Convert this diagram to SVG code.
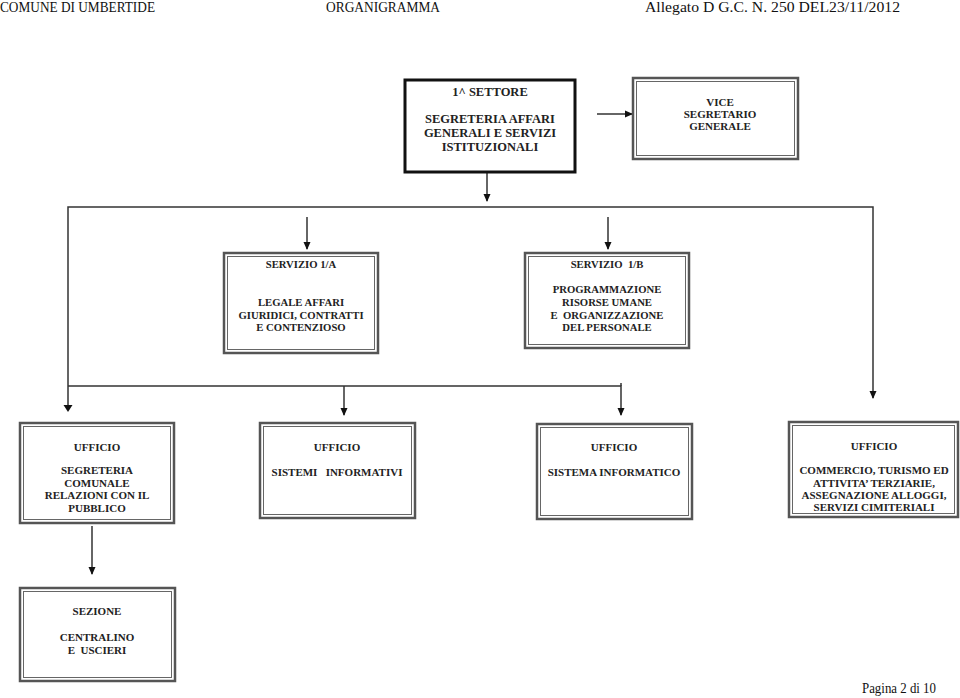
<svg xmlns="http://www.w3.org/2000/svg" width="960" height="698" viewBox="0 0 960 698">
<defs>
<marker id="ah" markerWidth="8" markerHeight="8" refX="7" refY="4" orient="auto" markerUnits="userSpaceOnUse">
<path d="M0,0.5 L8,4 L0,7.5 z" fill="#111"/>
</marker>
<style>
.hd{font-family:"Liberation Serif",serif;font-size:14px;fill:#111}
.t{font-family:"Liberation Serif",serif;font-weight:bold;font-size:11px;fill:#222;text-anchor:middle}
.s{font-size:10.7px}
.tl{font-family:"Liberation Serif",serif;font-weight:bold;font-size:12.5px;fill:#222;text-anchor:middle}
.o{fill:#fff;stroke:#555;stroke-width:2.5}
.i{fill:none;stroke:#666;stroke-width:1}
.c{fill:none;stroke:#333;stroke-width:1.5}
</style>
</defs>
<rect width="960" height="698" fill="#fff"/>
<text class="hd" x="0" y="12" textLength="155" lengthAdjust="spacingAndGlyphs">COMUNE DI UMBERTIDE</text>
<text class="hd" x="326" y="12" textLength="114" lengthAdjust="spacingAndGlyphs">ORGANIGRAMMA</text>
<text class="hd" x="645" y="12" textLength="255" lengthAdjust="spacingAndGlyphs">Allegato  D  G.C. N. 250 DEL23/11/2012</text>

<g id="connectors">
<line class="c" x1="597" y1="114" x2="632" y2="114" marker-end="url(#ah)"/>
<line class="c" x1="487" y1="173" x2="487" y2="201" marker-end="url(#ah)"/>
<polyline class="c" points="68,405 68,207 873,207 873,398" marker-end="url(#ah)"/>
<line class="c" x1="307" y1="217" x2="307" y2="249" marker-end="url(#ah)"/>
<line class="c" x1="608" y1="217" x2="608" y2="249" marker-end="url(#ah)"/>
<polyline class="c" points="68,386 621,386 621,415" marker-end="url(#ah)"/>
<line class="c" x1="621" y1="383" x2="621" y2="386"/>
<line class="c" x1="344" y1="386" x2="344" y2="415" marker-end="url(#ah)"/>
<line class="c" x1="92" y1="526" x2="92" y2="574" marker-end="url(#ah)"/>
<path d="M63.5,405 L72.5,405 L68,412 z" fill="#111"/>
</g>

<g id="settore1">
<rect x="405" y="80" width="170" height="92" fill="#fff" stroke="#111" stroke-width="3"/>
<text class="tl" x="490" y="96">1^ SETTORE</text>
<text class="tl" x="490" y="122.5">SEGRETERIA AFFARI</text>
<text class="tl" x="490" y="136.5">GENERALI E SERVIZI</text>
<text class="tl" x="490" y="150.5">ISTITUZIONALI</text>
</g>

<g id="vice">
<rect class="o" x="633" y="78" width="165" height="81"/>
<rect class="i" x="636.5" y="81.5" width="158" height="74"/>
<text class="t" x="720" y="106">VICE</text>
<text class="t" x="720" y="118">SEGRETARIO</text>
<text class="t" x="720" y="130">GENERALE</text>
</g>

<g id="servizio1a">
<rect class="o" x="224" y="253" width="154" height="100"/>
<rect class="i" x="227.5" y="256.5" width="147" height="93"/>
<text class="t s" x="301" y="268">SERVIZIO 1/A</text>
<text class="t s" x="301" y="306">LEGALE AFFARI</text>
<text class="t s" x="301" y="318.5">GIURIDICI, CONTRATTI</text>
<text class="t s" x="301" y="331">E CONTENZIOSO</text>
</g>

<g id="servizio1b">
<rect class="o" x="525" y="253" width="164" height="95"/>
<rect class="i" x="528.5" y="256.5" width="157" height="88"/>
<text class="t s" x="607" y="268" xml:space="preserve">SERVIZIO  1/B</text>
<text class="t s" x="607" y="293">PROGRAMMAZIONE</text>
<text class="t s" x="607" y="306">RISORSE UMANE</text>
<text class="t s" x="607" y="318.5" xml:space="preserve">E  ORGANIZZAZIONE</text>
<text class="t s" x="607" y="331">DEL PERSONALE</text>
</g>

<g id="ufficio1">
<rect class="o" x="20" y="423" width="154" height="100"/>
<rect class="i" x="23.5" y="426.5" width="147" height="93"/>
<text class="t" x="97" y="451">UFFICIO</text>
<text class="t" x="97" y="474">SEGRETERIA</text>
<text class="t" x="97" y="487">COMUNALE</text>
<text class="t" x="97" y="499">RELAZIONI CON IL</text>
<text class="t" x="97" y="512">PUBBLICO</text>
</g>

<g id="ufficio2">
<rect class="o" x="260" y="423" width="155" height="95"/>
<rect class="i" x="263.5" y="426.5" width="148" height="88"/>
<text class="t" x="337" y="451">UFFICIO</text>
<text class="t" x="337" y="476" xml:space="preserve">SISTEMI   INFORMATIVI</text>
</g>

<g id="ufficio3">
<rect class="o" x="537" y="424" width="155" height="95"/>
<rect class="i" x="540.5" y="427.5" width="148" height="88"/>
<text class="t" x="614" y="451">UFFICIO</text>
<text class="t" x="614" y="476">SISTEMA INFORMATICO</text>
</g>

<g id="ufficio4">
<rect class="o" x="789" y="422" width="169" height="95"/>
<rect class="i" x="792.5" y="425.5" width="162" height="88"/>
<text class="t" x="874" y="450">UFFICIO</text>
<text class="t" x="874" y="474">COMMERCIO, TURISMO ED</text>
<text class="t" x="874" y="486.5">ATTIVITA’ TERZIARIE,</text>
<text class="t" x="874" y="499">ASSEGNAZIONE ALLOGGI,</text>
<text class="t" x="874" y="511">SERVIZI CIMITERIALI</text>
</g>

<g id="sezione">
<rect class="o" x="20" y="588" width="155" height="93"/>
<rect class="i" x="23.5" y="591.5" width="148" height="86"/>
<text class="t" x="97" y="615">SEZIONE</text>
<text class="t" x="97" y="641">CENTRALINO</text>
<text class="t" x="97" y="654" xml:space="preserve">E  USCIERI</text>
</g>

<text class="hd" x="862" y="693" font-size="13" textLength="74" lengthAdjust="spacingAndGlyphs">Pagina 2 di 10</text>
</svg>
